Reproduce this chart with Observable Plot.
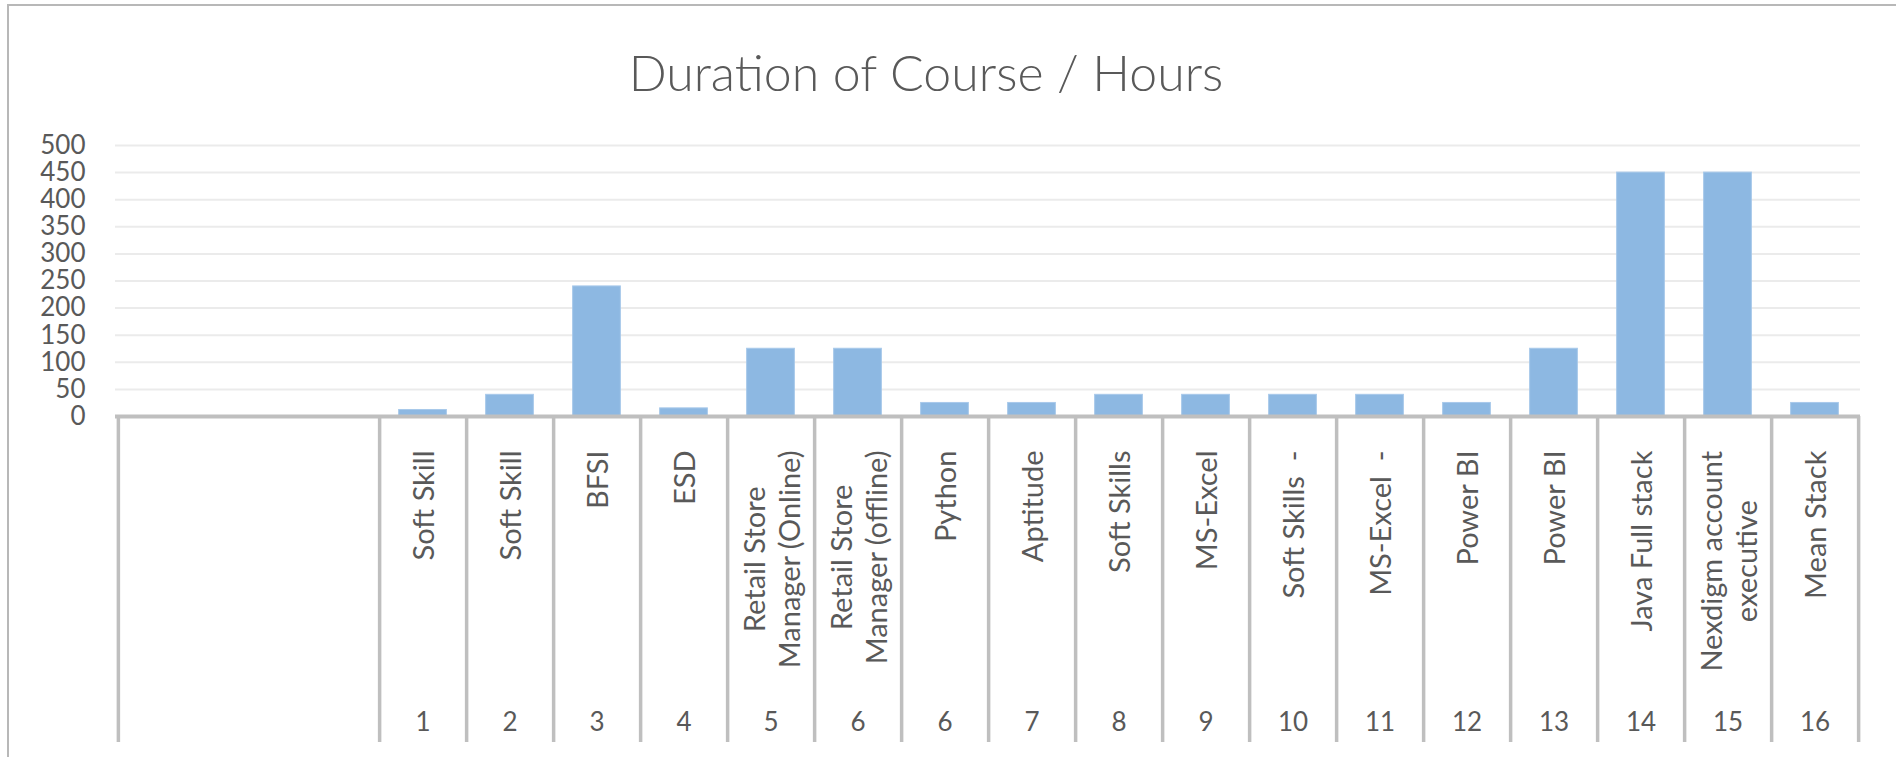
<!DOCTYPE html>
<html>
<head>
<meta charset="utf-8">
<script src="https://cdn.jsdelivr.net/npm/d3@7"></script>
<script src="https://cdn.jsdelivr.net/npm/@observablehq/plot@0.6"></script>
<style>
  html, body { margin: 0; padding: 0; background: #fff; overflow: hidden; }
  #page { position: relative; width: 1896px; height: 757px; font-family: Lato, "Open Sans", sans-serif; }
  #frame { position: absolute; left: 7px; top: 4px; width: 1960px; height: 820px; border: 2px solid #b8b8b8; box-sizing: border-box; pointer-events: none; }
  #title { position: relative; height: 110px; }
  #title span { position: absolute; left: 0; width: 1852px; top: 47px; text-align: center; font-size: 50px; line-height: 1; font-weight: 300; color: #595959; white-space: nowrap; }
  #chart svg text { white-space: pre; }
</style>
</head>
<body>
<div id="page">
  <div id="title"><span>Duration of Course / Hours</span></div>
  <div id="chart"></div>
  <div id="frame"></div>
</div>
<script>
// ---- data ----
const courseNo = ["", "", "", "1", "2", "3", "4", "5", "6", "6", "7", "8", "9", "10", "11", "12", "13", "14", "15", "16"];
const courseName = ["", "", "", "Soft Skill", "Soft Skill", "BFSI", "ESD",
  "Retail Store\nManager (Online)", "Retail Store\nManager (offline)", "Python", "Aptitude",
  "Soft Skills", "MS-Excel", "Soft Skills  -", "MS-Excel  -", "Power BI", "Power BI",
  "Java Full stack", "Nexdigm account\nexecutive", "Mean Stack"];
const hours = [null, null, null, 12, 40, 240, 15, 125, 125, 25, 25, 40, 40, 40, 40, 25, 125, 450, 450, 25];
const yTicks = [0, 50, 100, 150, 200, 250, 300, 350, 400, 450, 500];

// ---- table ----
const rows = courseNo.map((no, i) => ({key: i, no, name: courseName[i], hours: hours[i]}));
const keys = rows.map(d => d.key);

// ---- layout ----
const W = 1896, H = 647;
const mL = 115, mR = 36, mT = 35, mB = 341;
const step = (W - mL - mR) / keys.length;
const barW = 48;
const axisGray = "#bfbfbf";
const textGray = "#595959";

const plot = Plot.plot({
  width: W, height: H,
  marginLeft: mL, marginRight: mR, marginTop: mT, marginBottom: mB,
  style: {fontFamily: "Lato, 'Open Sans', sans-serif", background: "transparent", overflow: "visible"},
  x: {type: "band", domain: keys, padding: 0, axis: null},
  y: {domain: [0, 500], axis: null},
  marks: [
    Plot.ruleY(yTicks.filter(t => t > 0), {stroke: "#ebebeb", strokeWidth: 2}),
    Plot.barY(rows.filter(d => d.hours != null), {
      x: "key", y: "hours", fill: "#8db8e2", stroke: "#a8c9ea", strokeWidth: 1,
      insetLeft: (step - barW) / 2, insetRight: (step - barW) / 2
    }),
    // category separators (right edge of each band from the 3rd blank onward)
    Plot.axisX(keys.slice(2), {
      anchor: "bottom", tickSize: 326, tickFormat: () => "", dx: step / 2, label: null,
      stroke: axisGray, strokeWidth: 3.5, tickPadding: 0
    }),
    // left edge
    Plot.axisX(keys.slice(0, 1), {
      anchor: "bottom", tickSize: 326, tickFormat: () => "", dx: -step / 2, label: null,
      stroke: axisGray, strokeWidth: 3.5, tickPadding: 0
    }),
    Plot.ruleY([0], {stroke: axisGray, strokeWidth: 4}),
    Plot.axisY(yTicks, {
      anchor: "left", tickSize: 0, tickPadding: 30, fontSize: 26, fill: textGray, label: null
    }),
    // course names (rotated)
    Plot.text(rows, {
      x: "key", text: "name", frameAnchor: "bottom", rotate: -90,
      textAnchor: "middle", lineAnchor: "middle", lineHeight: 1.2,
      fontSize: 29, fill: textGray
    }),
    // course numbers
    Plot.text(rows, {
      x: "key", text: "no", frameAnchor: "bottom", dy: 306,
      fontSize: 26, fill: textGray, lineAnchor: "middle"
    })
  ]
});

document.getElementById("chart").append(plot);

// top-align the rotated labels (lines stay centred on each other)
const gap = 34;
const nameGroup = plot.querySelectorAll('g[aria-label="text"]')[0];
nameGroup.querySelectorAll("text").forEach(t => {
  const w = t.getBBox().width;
  const tr = t.getAttribute("transform") || "";
  t.setAttribute("transform", tr + ` translate(${-(w / 2 + gap)},0)`);
});
</script>
</body>
</html>
